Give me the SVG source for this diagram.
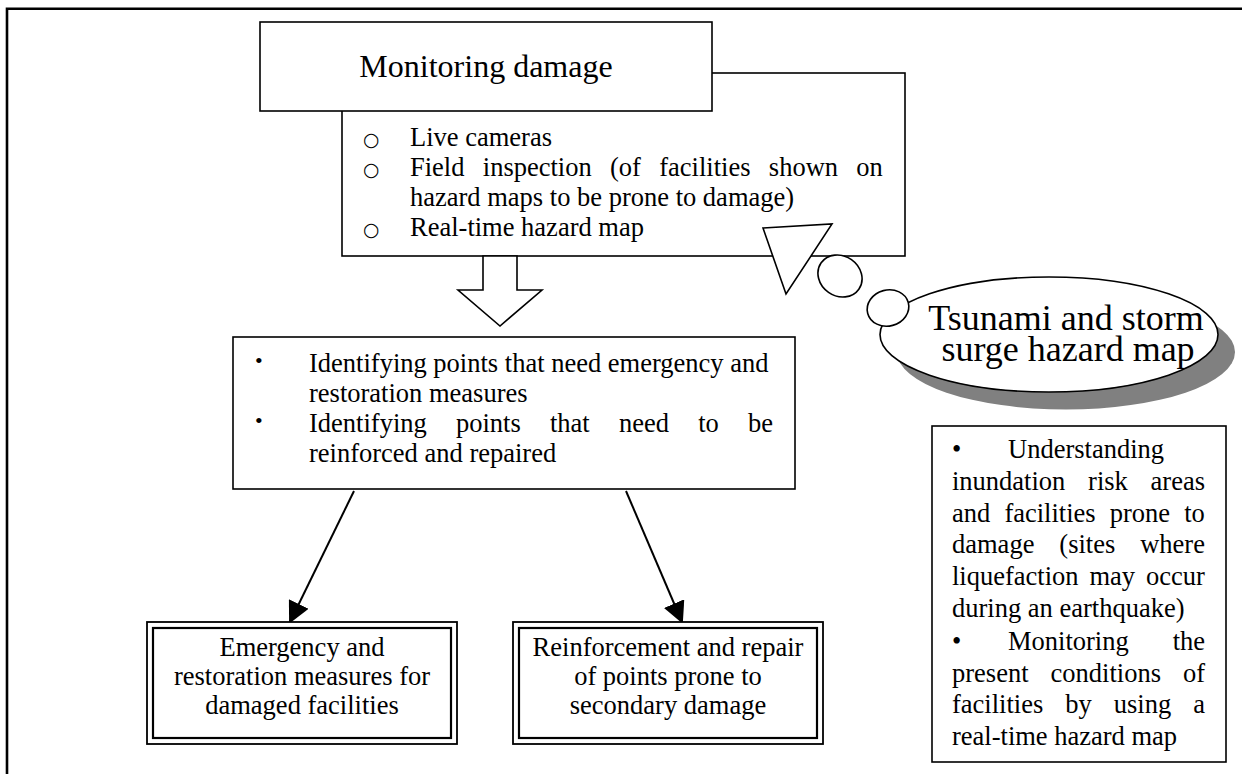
<svg xmlns="http://www.w3.org/2000/svg" width="1242" height="774" viewBox="0 0 1242 774">
  <style>
    .t { font-family: "Liberation Serif", "Times New Roman", serif; font-size: 26.5px; fill: #000; }
    .box { fill: #fff; stroke: #000; stroke-width: 1.6; }
    .sym { font-family: "DejaVu Sans", "Liberation Serif", sans-serif; font-size: 19px; fill: #000; }
    .link { fill: none; stroke: #000; stroke-width: 2; }
    .bubble { font-size: 36px; }
  </style>
  <defs>
    <marker id="head" markerUnits="userSpaceOnUse" markerWidth="22" markerHeight="22" viewBox="0 0 22 22" refX="20" refY="11" orient="auto">
      <path d="M0,0 L22,11 L0,22 Z" fill="#000"/>
    </marker>
  </defs>

  <rect width="1242" height="774" fill="#fff"/>

  <!-- page frame (top and left rules) -->
  <path d="M7,774 V8.7 H1242" fill="none" stroke="#000" stroke-width="2.6"/>

  <!-- list of monitoring means (sits behind the title box) -->
  <g id="monitor-list">
    <rect class="box" x="342" y="73" width="563" height="183"/>
    <text class="sym" x="363" y="146">○</text>
    <text class="t" x="410" y="146">Live cameras</text>
    <text class="sym" x="363" y="176">○</text>
    <text class="t" x="410" y="176" word-spacing="11.7">Field inspection (of facilities shown on</text>
    <text class="t" x="410" y="206">hazard maps to be prone to damage)</text>
    <text class="sym" x="363" y="236">○</text>
    <text class="t" x="410" y="236">Real-time hazard map</text>
  </g>

  <!-- title box -->
  <g id="monitoring">
    <rect class="box" x="260" y="22" width="452" height="89"/>
    <text class="t" x="486" y="77" text-anchor="middle" style="font-size:32px">Monitoring damage</text>
  </g>

  <!-- speech pointer from the callout -->
  <g id="pointer">
    <path class="box" d="M763,228 L832,224 L786,294 Z"/>
  </g>

  <!-- callout bubble -->
  <g id="callout">
    <ellipse cx="1066" cy="352" rx="169" ry="57.5" fill="#808080"/>
    <ellipse class="box" cx="1049" cy="334.5" rx="169" ry="57.5"/>
    <ellipse class="box" cx="840" cy="276" rx="23" ry="20" transform="rotate(35 840 276)"/>
    <ellipse class="box" cx="888" cy="308" rx="21" ry="18" transform="rotate(-15 888 308)"/>
    <text class="t bubble" x="1066" y="330" text-anchor="middle">Tsunami and storm</text>
    <text class="t bubble" x="1068" y="361" text-anchor="middle">surge hazard map</text>
  </g>

  <!-- hollow block arrow -->
  <g id="block-arrow">
    <path class="box" d="M483,256 V290 H458 L500,326 L542,290 H517 V256 Z"/>
  </g>

  <!-- identification box -->
  <g id="identify">
    <rect class="box" x="233" y="337" width="562" height="152"/>
    <text class="t" x="255" y="368" style="font-size:22px">•</text>
    <text class="t" x="309" y="372">Identifying points that need emergency and</text>
    <text class="t" x="309" y="402">restoration measures</text>
    <text class="t" x="255" y="428" style="font-size:22px">•</text>
    <text class="t" x="309" y="432" word-spacing="22.6">Identifying points that need to be</text>
    <text class="t" x="309" y="462">reinforced and repaired</text>
  </g>

  <!-- connectors -->
  <g id="connectors">
    <line class="link" x1="354" y1="491" x2="290" y2="622" marker-end="url(#head)"/>
    <line class="link" x1="626" y1="491" x2="682" y2="622" marker-end="url(#head)"/>
  </g>

  <!-- outcome boxes with double border -->
  <g id="emergency">
    <rect x="147" y="622" width="310" height="122" fill="#fff" stroke="#000" stroke-width="1.8"/>
    <rect x="153" y="628" width="298" height="110" fill="none" stroke="#000" stroke-width="2.2"/>
    <text class="t" x="302" y="656" text-anchor="middle">Emergency and</text>
    <text class="t" x="302" y="685" text-anchor="middle">restoration measures for</text>
    <text class="t" x="302" y="714" text-anchor="middle">damaged facilities</text>
  </g>
  <g id="reinforcement">
    <rect x="513" y="622" width="310" height="122" fill="#fff" stroke="#000" stroke-width="1.8"/>
    <rect x="519" y="628" width="298" height="110" fill="none" stroke="#000" stroke-width="2.2"/>
    <text class="t" x="668" y="656" text-anchor="middle">Reinforcement and repair</text>
    <text class="t" x="668" y="685" text-anchor="middle">of points prone to</text>
    <text class="t" x="668" y="714" text-anchor="middle">secondary damage</text>
  </g>

  <!-- hazard map uses -->
  <g id="hazard-uses">
    <rect class="box" x="932" y="426" width="294" height="336"/>
    <text class="t" x="952" y="458">•</text>
    <text class="t" x="1008" y="458">Understanding</text>
    <text class="t" x="952" y="490" word-spacing="16.1">inundation risk areas</text>
    <text class="t" x="952" y="522" word-spacing="7.5">and facilities prone to</text>
    <text class="t" x="952" y="553" word-spacing="18.3">damage (sites where</text>
    <text class="t" x="952" y="585" word-spacing="4.3">liquefaction may occur</text>
    <text class="t" x="952" y="617">during an earthquake)</text>
    <text class="t" x="952" y="650">•</text>
    <text class="t" x="1008" y="650">Monitoring</text>
    <text class="t" x="1205" y="650" text-anchor="end">the</text>
    <text class="t" x="952" y="682" word-spacing="15.4">present conditions of</text>
    <text class="t" x="952" y="713" word-spacing="15.4">facilities by using a</text>
    <text class="t" x="952" y="745">real-time hazard map</text>
  </g>
</svg>
